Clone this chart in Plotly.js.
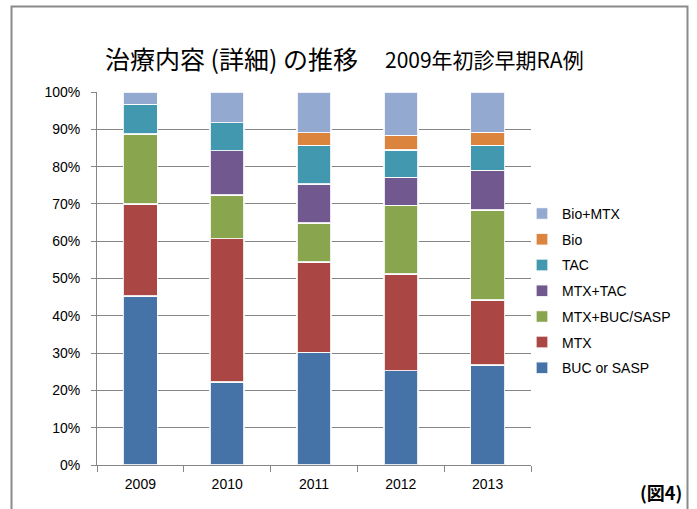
<!DOCTYPE html>
<html>
<head>
<meta charset="utf-8">
<script src="https://cdn.plot.ly/plotly-3.0.1.min.js"></script>
<style>
html,body{margin:0;padding:0;background:#fff;}
#chart{width:697px;height:509px;}
</style>
</head>
<body>
<div id="chart"></div>
<script>
const years = ['2009', '2010', '2011', '2012', '2013'];
const seriesNames = ['BUC or SASP', 'MTX', 'MTX+BUC/SASP', 'MTX+TAC', 'TAC', 'Bio', 'Bio+MTX'];
const bucOrSasp = [45.3, 22.3, 30.2, 25.3, 26.8];
const mtx       = [24.7, 38.4, 24.2, 25.9, 17.4];
const mtxBucSasp= [18.7, 11.7, 10.5, 18.4, 24.1];
const mtxTac    = [0.0, 11.9, 10.4, 7.5, 10.7];
const tac       = [8.0, 7.5, 10.4, 7.4, 6.7];
const bio       = [0.0, 0.0, 3.4, 3.9, 3.5];
const bioMtx    = [3.3, 8.2, 10.9, 11.6, 10.8];
const yTickVals = [0, 10, 20, 30, 40, 50, 60, 70, 80, 90, 100];
const yTickText = ['0%', '10%', '20%', '30%', '40%', '50%', '60%', '70%', '80%', '90%', '100%'];

const seriesValues = [bucOrSasp, mtx, mtxBucSasp, mtxTac, tac, bio, bioMtx];
const colors = ['#4572A7', '#AA4643', '#89A54E', '#71588F', '#4198AF', '#DB843D', '#93A9CF'];

const traces = seriesNames.map((name, i) => ({
  type: 'bar',
  name: name,
  x: years,
  y: seriesValues[i],
  legendgroup: 'g' + i,
  legendrank: 100 - i,
  marker: {color: colors[i], line: {color: 'rgba(255,255,255,0.85)', width: 1.5}},
  hoverinfo: 'skip'
}));

const L = 97, R = 531, T = 92, B = 465;
const W = R - L, H = B - T;
const px = v => (v - L) / W;
const py = v => (B - v) / H;
const gray = '#868686';

const layout = {
  width: 697, height: 509,
  margin: {l: L, r: 697 - R, t: T, b: 509 - B, pad: 0},
  paper_bgcolor: '#fff', plot_bgcolor: '#fff',
  barmode: 'stack',
  bargap: 0.608,
  showlegend: true,
  font: {family: 'Liberation Sans, Arial, sans-serif', color: '#000'},
  xaxis: {
    type: 'category',
    showline: true, linecolor: gray, linewidth: 1,
    ticks: 'outside', tickson: 'boundaries', ticklen: 6, tickcolor: gray,
    ticklabelstandoff: 6,
    showgrid: false, zeroline: false,
    tickfont: {size: 14, family: 'Liberation Sans, Arial, sans-serif', color: '#000'},
    fixedrange: true
  },
  yaxis: {
    range: [0, 100],
    tickvals: yTickVals, ticktext: yTickText,
    showline: true, linecolor: gray, linewidth: 1,
    ticks: 'outside', ticklen: 5, tickcolor: gray,
    ticklabelstandoff: 8,
    showgrid: true, gridcolor: gray, gridwidth: 1,
    zeroline: false,
    tickfont: {size: 14, family: 'Liberation Sans, Arial, sans-serif', color: '#000'},
    fixedrange: true
  },
  legend: {
    x: px(522), xanchor: 'left',
    y: py(198), yanchor: 'top',
    traceorder: 'grouped',
    tracegroupgap: 4.5,
    font: {size: 14, family: 'Liberation Sans, Arial, sans-serif', color: '#000'},
    bgcolor: 'rgba(0,0,0,0)', borderwidth: 0
  },
  annotations: [
    {xref: 'paper', yref: 'paper', x: px(103), y: py(58), xanchor: 'left', yanchor: 'middle',
     text: '治療内容 (詳細) の推移', showarrow: false,
     font: {family: 'Noto Sans CJK JP', size: 25, color: '#000'}},
    {xref: 'paper', yref: 'paper', x: px(383), y: py(59), xanchor: 'left', yanchor: 'middle',
     text: '2009年初診早期RA例', showarrow: false,
     font: {family: 'Noto Sans CJK JP', size: 21, color: '#000'}},
    {xref: 'paper', yref: 'paper', x: px(684), y: py(492), xanchor: 'right', yanchor: 'middle',
     text: '<b>(図4)</b>', showarrow: false,
     font: {family: 'Noto Sans CJK JP', size: 18, color: '#000'}}
  ],
  shapes: [
    {type: 'path', xref: 'paper', yref: 'paper',
     path: 'M ' + px(11.5) + ' ' + py(530) + ' L ' + px(11.5) + ' ' + py(6.5) + ' L ' + px(687.5) + ' ' + py(6.5) + ' L ' + px(687.5) + ' ' + py(530),
     line: {color: '#8a8a8a', width: 2}}
  ]
};

Plotly.newPlot('chart', traces, layout, {staticPlot: true, displayModeBar: false});
</script>
</body>
</html>
